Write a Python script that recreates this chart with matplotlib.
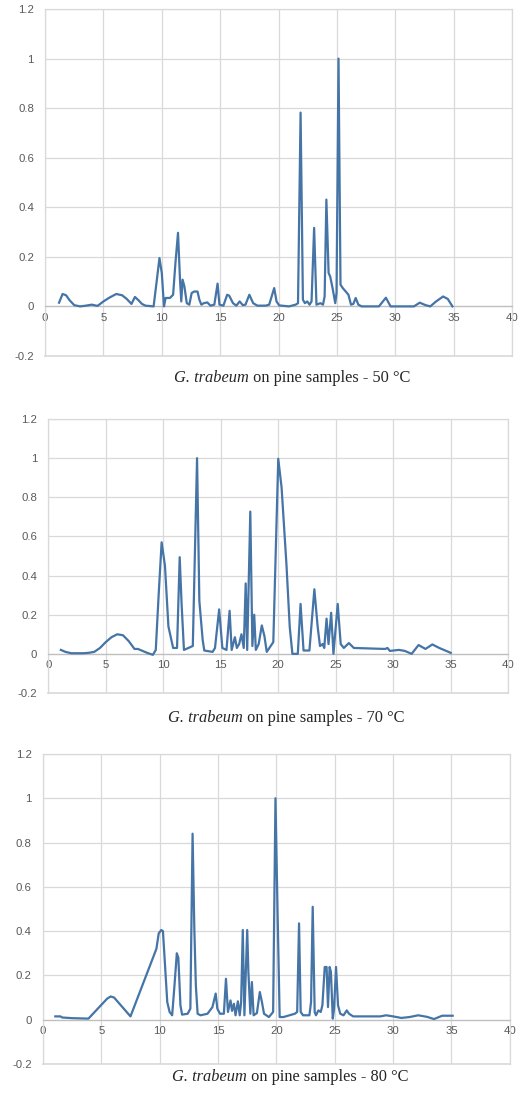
import matplotlib
matplotlib.use("Agg")
import matplotlib.pyplot as plt

# ---------------- data (retention time, normalised intensity) ----------------
x50 = [1.2, 1.5, 1.8, 2.1, 2.5, 3.0, 3.5, 4.0, 4.5, 5.0, 5.5, 6.1, 6.6, 7.0, 7.4,
       7.7, 8.0, 8.3, 8.6, 9.3, 9.58, 9.8, 10.0, 10.19, 10.33, 10.7, 10.97, 11.17,
       11.39, 11.56, 11.67, 11.78, 11.94, 12.14, 12.36, 12.56, 12.78, 13.06, 13.22,
       13.39, 13.6, 13.9, 14.17, 14.5, 14.78, 14.94, 15.28, 15.6, 15.78, 16.1, 16.39,
       16.67, 16.94, 17.17, 17.5, 17.83, 18.19, 18.89, 19.2, 19.63, 19.83, 20.06,
       20.9, 21.47, 21.67, 21.89, 22.09, 22.26, 22.46, 22.66, 22.83, 23.05, 23.25,
       23.59, 23.81, 23.95, 24.1, 24.29, 24.43, 24.63, 24.86, 24.97, 25.14, 25.31,
       25.5, 25.76, 25.99, 26.21, 26.41, 26.61, 26.84, 27.12, 28.6, 29.2, 29.6, 31.6,
       32.1, 32.6, 33.0, 33.5, 34.1, 34.5, 34.9]
y50 = [0.015, 0.05, 0.045, 0.025, 0.005, 0.0, 0.003, 0.007, 0.002, 0.02, 0.035, 0.05,
       0.045, 0.03, 0.01, 0.038, 0.025, 0.01, 0.003, 0.0, 0.108, 0.195, 0.135, 0.0,
       0.034, 0.034, 0.047, 0.175, 0.297, 0.108, 0.02, 0.108, 0.08, 0.013, 0.007,
       0.054, 0.06, 0.06, 0.027, 0.007, 0.013, 0.016, 0.003, 0.007, 0.092, 0.007,
       0.003, 0.047, 0.043, 0.013, 0.003, 0.02, 0.005, 0.007, 0.047, 0.013, 0.003,
       0.003, 0.007, 0.074, 0.02, 0.004, 0.0, 0.007, 0.013, 0.782, 0.027, 0.013,
       0.02, 0.007, 0.02, 0.317, 0.007, 0.013, 0.007, 0.04, 0.431, 0.135, 0.12,
       0.074, 0.013, 0.054, 1.0, 0.088, 0.074, 0.06, 0.047, 0.007, 0.01, 0.034,
       0.007, 0.0, 0.0, 0.035, 0.0, 0.0, 0.015, 0.005, 0.0, 0.02, 0.04, 0.03, 0.0]

x70 = [1.1, 1.5, 2.0, 3.0, 3.5, 4.0, 4.5, 5.0, 5.5, 6.0, 6.5, 7.0, 7.5, 7.8, 8.2,
       8.6, 9.1, 9.35, 9.6, 9.86, 10.15, 10.45, 10.86, 11.2, 11.43, 11.6, 11.8,
       12.57, 12.94, 13.14, 13.43, 13.57, 14.29, 14.5, 14.86, 15.14, 15.5, 15.77,
       15.95, 16.23, 16.4, 16.6, 16.8, 17.0, 17.17, 17.3, 17.57, 17.75, 17.91, 18.05,
       18.3, 18.57, 18.8, 19.0, 19.57, 20.0, 20.29, 20.71, 21.0, 21.23, 21.7, 21.94,
       22.2, 22.71, 23.14, 23.43, 23.63, 23.86, 24.0, 24.2, 24.37, 24.6, 24.8, 25.17,
       25.43, 25.7, 26.14, 26.57, 29.3, 29.5, 29.7, 30.5, 31.0, 31.6, 32.2, 32.8,
       33.4, 34.0, 34.6, 35.0]
y70 = [0.02, 0.01, 0.003, 0.003, 0.005, 0.01, 0.03, 0.06, 0.085, 0.1, 0.095, 0.065,
       0.025, 0.025, 0.015, 0.005, -0.005, 0.02, 0.3, 0.57, 0.45, 0.14, 0.03, 0.03,
       0.494, 0.25, 0.02, 0.04, 1.0, 0.27, 0.07, 0.017, 0.01, 0.03, 0.227, 0.03,
       0.02, 0.22, 0.02, 0.085, 0.03, 0.05, 0.1, 0.03, 0.36, 0.02, 0.727, 0.04, 0.2,
       0.02, 0.05, 0.145, 0.09, 0.01, 0.06, 0.997, 0.85, 0.46, 0.136, 0.0, 0.0,
       0.255, 0.017, 0.017, 0.33, 0.136, 0.04, 0.05, 0.03, 0.18, 0.05, 0.21, 0.0,
       0.255, 0.05, 0.03, 0.055, 0.03, 0.025, 0.03, 0.015, 0.02, 0.015, 0.0, 0.045,
       0.025, 0.048, 0.03, 0.015, 0.005]

x80 = [1.06, 1.5, 1.65, 2.5, 3.9, 5.5, 5.8, 6.1, 7.5, 9.72, 9.92, 10.14, 10.28,
       10.42, 10.65, 10.85, 11.07, 11.27, 11.47, 11.6, 11.78, 11.92, 12.4, 12.63,
       12.82, 12.97, 13.1, 13.25, 13.5, 14.1, 14.52, 14.8, 14.94, 15.17, 15.5, 15.68,
       15.85, 16.07, 16.2, 16.36, 16.5, 16.7, 16.86, 16.98, 17.12, 17.26, 17.5, 17.6,
       17.77, 17.9, 18.05, 18.33, 18.58, 18.76, 18.94, 19.36, 19.72, 19.92, 20.11,
       20.28, 20.6, 21.58, 21.78, 21.94, 22.08, 22.28, 22.83, 22.97, 23.11, 23.28,
       23.39, 23.6, 23.8, 23.94, 24.14, 24.3, 24.42, 24.56, 24.67, 24.83, 24.94,
       25.11, 25.28, 25.47, 25.75, 26.03, 26.22, 26.58, 28.9, 29.4, 30.0, 30.7, 31.4,
       32.15, 32.9, 33.5, 34.2, 35.1]
y80 = [0.015, 0.015, 0.01, 0.007, 0.005, 0.095, 0.105, 0.1, 0.015, 0.32, 0.39, 0.405,
       0.4, 0.28, 0.08, 0.035, 0.02, 0.155, 0.3, 0.28, 0.065, 0.023, 0.027, 0.05,
       0.84, 0.41, 0.155, 0.027, 0.02, 0.027, 0.057, 0.118, 0.05, 0.027, 0.027,
       0.185, 0.035, 0.087, 0.04, 0.072, 0.02, 0.083, 0.02, 0.08, 0.405, 0.02, 0.405,
       0.216, 0.027, 0.17, 0.02, 0.03, 0.125, 0.08, 0.027, 0.012, 0.035, 1.0, 0.46,
       0.012, 0.012, 0.027, 0.035, 0.435, 0.035, 0.02, 0.02, 0.08, 0.51, 0.035, 0.02,
       0.042, 0.035, 0.065, 0.238, 0.238, 0.057, 0.238, 0.216, 0.005, 0.05, 0.238,
       0.065, 0.027, 0.02, 0.042, 0.027, 0.015, 0.015, 0.02, 0.015, 0.008, 0.012,
       0.02, 0.013, 0.003, 0.018, 0.018]

temperatures = ["50", "70", "80"]
species = "G. trabeum"
x_ticks = [0, 5, 10, 15, 20, 25, 30, 35, 40]
y_ticks = [-0.2, 0, 0.2, 0.4, 0.6, 0.8, 1, 1.2]
y_tick_labels = ["-0.2", "0", "0.2", "0.4", "0.6", "0.8", "1", "1.2"]

assert len(x50) == len(y50) and len(x70) == len(y70) and len(x80) == len(y80)

# ---------------- styling ----------------
LINE = "#4574a6"
GRID = "#d9d9d9"
TICK = "#595959"
TITLE_FS = 11.8

fig = plt.figure(figsize=(5.30, 11.01), dpi=100)

# axes rectangles [left, bottom, width, height] in figure fractions
rects = [
    [0.085, 0.6767, 0.881, 0.3151],
    [0.091, 0.3706, 0.868, 0.2488],
    [0.081, 0.0336, 0.881, 0.2816],
]
title_y = [0.6567, 0.3479, 0.0218]
title_x = [0.551, 0.540, 0.547]

series = [(x50, y50), (x70, y70), (x80, y80)]
titles = []

for i, ((xs, ys), rect) in enumerate(zip(series, rects)):
    ax = fig.add_axes(rect)
    ax.plot(xs, ys, color=LINE, lw=1.6, solid_joinstyle="round", zorder=3)
    ax.set_xlim(0, 40)
    ax.set_ylim(-0.2, 1.2)
    ax.set_xticks(x_ticks)
    ax.set_xticklabels([str(t) for t in x_ticks])
    ax.set_yticks(y_ticks)
    ax.set_yticklabels(y_tick_labels)
    ax.grid(True, color=GRID, lw=0.9, zorder=0)
    ax.set_axisbelow(True)
    for side in ["top", "right", "left"]:
        ax.spines[side].set_color(GRID)
        ax.spines[side].set_linewidth(0.9)
    ax.spines["bottom"].set_position(("data", 0))
    ax.spines["bottom"].set_color("#bfbfbf")
    ax.spines["bottom"].set_linewidth(0.9)
    ax.axhline(-0.2, color=GRID, lw=1.2, zorder=1, clip_on=False)
    ax.tick_params(axis="both", length=0, labelsize=8.2, labelcolor=TICK)
    ax.tick_params(axis="x", pad=4.5)
    ax.tick_params(axis="y", pad=8)
    for lab in ax.get_xticklabels() + ax.get_yticklabels():
        lab.set_fontfamily("Liberation Sans")

    t_it = fig.text(title_x[i], title_y[i], species, ha="left", va="center",
                    fontsize=TITLE_FS, family="Liberation Serif", style="italic",
                    color="#262626")
    t_rm = fig.text(title_x[i], title_y[i],
                    " on pine samples - " + temperatures[i] + " °C",
                    ha="left", va="center", fontsize=TITLE_FS,
                    family="Liberation Serif", color="#262626")
    titles.append((t_it, t_rm, title_x[i]))

# place the two title parts side by side, centred on title_x
fig.canvas.draw()
renderer = fig.canvas.get_renderer()
W = fig.bbox.width
for t_it, t_rm, cx in titles:
    w1 = t_it.get_window_extent(renderer).width / W
    w2 = t_rm.get_window_extent(renderer).width / W
    start = cx - (w1 + w2) / 2
    t_it.set_x(start)
    t_rm.set_x(start + w1)

fig.savefig("out.png", dpi=100)
